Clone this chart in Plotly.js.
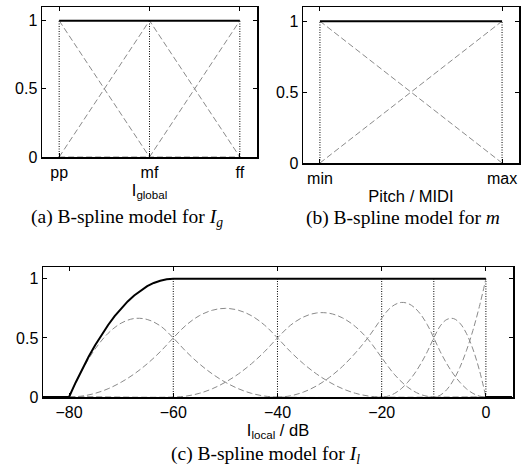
<!DOCTYPE html>
<html>
<head>
<meta charset="utf-8">
<script src="https://cdn.plot.ly/plotly-3.0.1.min.js"></script>
<style>html,body{margin:0;padding:0;background:#fff;}#chart{width:526px;height:470px;}</style>
</head>
<body>
<div id="chart"></div>
<script>
// ---------- Panel (a): I_global ----------
const catsA = ['pp', 'mf', 'ff'];
const basisA1 = [1, 0, 0];
const basisA2 = [0, 1, 0];
const basisA3 = [0, 0, 1];
const sumA = [1, 1, 1];

// ---------- Panel (b): Pitch / MIDI ----------
const catsB = ['min', 'max'];
const basisB1 = [1, 0];
const basisB2 = [0, 1];
const sumB = [1, 1];

// ---------- Panel (c): I_local / dB ----------
const ticksC = [-80, -60, -40, -20, 0];
const knotsC = [-60, -40, -20, -10, 0];
const c1x = [-80, -77.5, -75, -72.5, -70, -67.5, -65, -62.5, -60, -57.5, -55, -52.5, -50, -47.5, -45, -42.5, -40, 0];
const c1y = [0, 0.227, 0.406, 0.539, 0.625, 0.664, 0.656, 0.602, 0.5, 0.383, 0.281, 0.195, 0.125, 0.070, 0.031, 0.008, 0, 0];
const c2x = [-80, -77.5, -75, -72.5, -70, -67.5, -65, -62.5, -60, -57.5, -55, -52.5, -50, -47.5, -45, -42.5, -40, -37.5, -35, -32.5, -30, -27.5, -25, -22.5, -20, 0];
const c2y = [0, 0.008, 0.031, 0.070, 0.125, 0.195, 0.281, 0.383, 0.5, 0.609, 0.688, 0.734, 0.75, 0.734, 0.688, 0.609, 0.5, 0.383, 0.281, 0.195, 0.125, 0.070, 0.031, 0.008, 0, 0];
const c3x = [-80, -60, -57.5, -55, -52.5, -50, -47.5, -45, -42.5, -40, -37.5, -35, -32.5, -30, -27.5, -25, -22.5, -20, -17.5, -15, -12.5, -10, 0];
const c3y = [0, 0, 0.008, 0.031, 0.070, 0.125, 0.195, 0.281, 0.383, 0.5, 0.607, 0.677, 0.711, 0.708, 0.669, 0.594, 0.482, 0.333, 0.188, 0.083, 0.021, 0, 0];
const c4x = [-80, -40, -37.5, -35, -32.5, -30, -27.5, -25, -22.5, -20, -18.75, -17.5, -16.25, -15, -13.75, -12.5, -11.25, -10, -8.75, -7.5, -6.25, -5, -3.75, -2.5, -1.25, 0];
const c4y = [0, 0, 0.010, 0.042, 0.094, 0.167, 0.260, 0.375, 0.510, 0.667, 0.737, 0.781, 0.800, 0.792, 0.758, 0.698, 0.612, 0.5, 0.383, 0.281, 0.195, 0.125, 0.070, 0.031, 0.008, 0];
const c5x = [-80, -20, -18.75, -17.5, -16.25, -15, -13.75, -12.5, -11.25, -10, -8.75, -7.5, -6.25, -5, -3.75, -2.5, -1.25, 0];
const c5y = [0, 0, 0.008, 0.031, 0.070, 0.125, 0.195, 0.281, 0.383, 0.5, 0.602, 0.656, 0.664, 0.625, 0.539, 0.406, 0.227, 0];
const c6x = [-80, -10, -8.75, -7.5, -6.25, -5, -3.75, -2.5, -1.25, 0];
const c6y = [0, 0, 0.016, 0.0625, 0.141, 0.25, 0.391, 0.5625, 0.766, 1];
const sumCx = [-85, -80, -78.75, -77.5, -76.25, -75, -73.75, -72.5, -71.25, -70, -68.75, -67.5, -66.25, -65, -63.75, -62.5, -61.25, -60, 0, null, 0, 5];
const sumCy = [0, 0, 0.121, 0.234, 0.340, 0.4375, 0.527, 0.609, 0.684, 0.75, 0.809, 0.859, 0.902, 0.9375, 0.965, 0.984, 0.996, 1, 1, null, 0, 0];

const GRAY = '#8a8a8a';
const dashLine = {color: GRAY, width: 1, dash: '6px,3px'};
const dotLine = {color: '#000', width: 1, dash: '1px,1.5px'};
const sumLine = {color: '#000', width: 2};

const traces = [];
function add(x, y, line, xa, ya, shape) {
  traces.push({type: 'scatter', mode: 'lines', x: x, y: y, line: Object.assign({shape: shape || 'linear'}, line),
    xaxis: xa, yaxis: ya, hoverinfo: 'skip', showlegend: false, connectgaps: false});
}

// Panel (a)
const xA = catsA.map((_, i) => i);
xA.forEach(v => add([v, v], [0, 1], dotLine, 'x', 'y'));
[basisA1, basisA2, basisA3].forEach(b => add(xA, b, dashLine, 'x', 'y'));
add(xA, sumA, sumLine, 'x', 'y');

// Panel (b)
const xB = catsB.map((_, i) => i);
xB.forEach(v => add([v, v], [0, 1], dotLine, 'x2', 'y2'));
[basisB1, basisB2].forEach(b => add(xB, b, dashLine, 'x2', 'y2'));
add(xB, sumB, sumLine, 'x2', 'y2');

// Panel (c)
knotsC.forEach(v => add([v, v], [0, 1], dotLine, 'x3', 'y3'));
[[c1x, c1y], [c2x, c2y], [c3x, c3y], [c4x, c4y], [c5x, c5y], [c6x, c6y]].forEach(c => add(c[0], c[1], dashLine, 'x3', 'y3', 'spline'));
add(sumCx, sumCy, sumLine, 'x3', 'y3');

const TICKFONT = {family: 'Liberation Sans, Arial, sans-serif', size: 16, color: '#000'};
const TITLEFONT = {family: 'Liberation Sans, Arial, sans-serif', size: 16.5, color: '#000'};
const W = 526, H = 470;
function axisBase() {
  return {showline: true, linecolor: '#000', linewidth: 1.5, mirror: 'ticks', ticks: 'inside', ticklen: 4,
    tickcolor: '#000', showgrid: false, zeroline: false, tickfont: TICKFONT, fixedrange: true};
}
function px(a, b) { return [a / W, b / W]; }
function py(top, bottom) { return [1 - bottom / H, 1 - top / H]; }

const yTicks = {tickvals: [0, 0.5, 1], ticktext: ['0', '0.5', '1'], range: [0, 1.1]};

const layout = {
  width: W, height: H, margin: {l: 0, r: 0, t: 0, b: 0},
  paper_bgcolor: '#fff', plot_bgcolor: '#fff', showlegend: false,
  xaxis: Object.assign(axisBase(), {domain: px(42, 257), range: [-0.19, 2.19], tickvals: xA, ticktext: catsA,
    anchor: 'y', title: {text: 'I<sub>global</sub>', font: TITLEFONT, standoff: 2}}),
  yaxis: Object.assign(axisBase(), yTicks, {domain: py(7, 157), anchor: 'x'}),
  xaxis2: Object.assign(axisBase(), {domain: px(303, 519), range: [-0.093, 1.093], tickvals: xB, ticktext: catsB,
    anchor: 'y2', title: {text: 'Pitch / MIDI', font: TITLEFONT, standoff: 4}}),
  yaxis2: Object.assign(axisBase(), yTicks, {domain: py(7, 163), anchor: 'x2'}),
  xaxis3: Object.assign(axisBase(), {domain: px(43, 513), range: [-85, 5.2], tickvals: ticksC,
    anchor: 'y3', title: {text: 'I<sub>local</sub> / dB', font: TITLEFONT, standoff: 0}}),
  yaxis3: Object.assign(axisBase(), yTicks, {domain: py(267, 397), anchor: 'x3'}),
  annotations: [
    {text: '(a) B-spline model for <i>I</i><sub><i>g</i></sub>', x: 127 / W, y: 1 - 218 / H},
    {text: '(b) B-spline model for <i>m</i>', x: 403 / W, y: 1 - 218 / H},
    {text: '(c) B-spline model for <i>I</i><sub><i>l</i></sub>', x: 265 / W, y: 1 - 455 / H}
  ].map(a => Object.assign({xref: 'paper', yref: 'paper', xanchor: 'center', yanchor: 'middle', showarrow: false,
    font: {family: 'Liberation Serif, Times New Roman, serif', size: 19.5, color: '#000'}}, a))
};

Plotly.newPlot('chart', traces, layout, {staticPlot: true, displayModeBar: false});
</script>
</body>
</html>
